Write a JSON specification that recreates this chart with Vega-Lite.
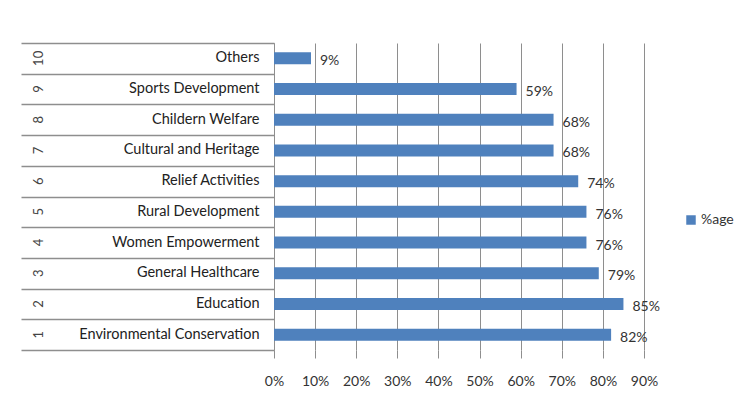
{
  "$schema": "https://vega.github.io/schema/vega-lite/v6.json",
  "width": 370,
  "height": 307,
  "padding": {"left": 20, "top": 42, "right": 5, "bottom": 5},
  "autosize": {"type": "pad"},
  "background": "white",
  "data": {"values": [
    {"n": 10, "item": "Others", "pct": 0.09},
    {"n": 9, "item": "Sports Development", "pct": 0.59},
    {"n": 8, "item": "Childern Welfare", "pct": 0.68},
    {"n": 7, "item": "Cultural and Heritage", "pct": 0.68},
    {"n": 6, "item": "Relief Activities", "pct": 0.74},
    {"n": 5, "item": "Rural Development", "pct": 0.76},
    {"n": 4, "item": "Women Empowerment", "pct": 0.76},
    {"n": 3, "item": "General Healthcare", "pct": 0.79},
    {"n": 2, "item": "Education", "pct": 0.85},
    {"n": 1, "item": "Environmental Conservation", "pct": 0.82}
  ]},
  "config": {"font": "Lato", "view": {"stroke": null}},
  "layer": [
    {
      "mark": {"type": "bar", "height": {"band": 0.39}},
      "encoding": {
        "x": {
          "field": "pct", "type": "quantitative",
          "scale": {"domain": [0, 0.9], "nice": false, "zero": true},
          "axis": {
            "format": ".0%", "values": [0, 0.1, 0.2, 0.3, 0.4, 0.5, 0.6, 0.7, 0.8, 0.9],
            "labelOverlap": false, "labelFlush": false,
            "grid": true, "gridColor": "#8e8e8e", "gridWidth": 1, "domain": false,
            "tickSize": 8, "tickColor": "#8e8e8e", "labelPadding": 16,
            "labelFontSize": 14, "labelColor": "#333", "title": null
          }
        },
        "y": {
          "field": "item", "type": "nominal",
          "sort": {"field": "n", "order": "descending"},
          "scale": {"paddingInner": 0, "paddingOuter": 0},
          "axis": {
            "orient": "left", "ticks": false, "domain": false, "labelPadding": 15,
            "labelFontSize": 14.5, "labelColor": "#222", "title": null, "labelLimit": 300
          }
        },
        "color": {
          "datum": "%age", "type": "nominal",
          "scale": {"range": ["#4F81BD"]},
          "legend": {
            "title": null, "orient": "none", "legendX": 410, "legendY": 170,
            "symbolType": "square", "symbolSize": 90, "labelFontSize": 14,
            "labelOffset": 3, "labelColor": "#333", "symbolStrokeWidth": 0
          }
        }
      }
    },
    {
      "mark": {"type": "text", "align": "left", "dx": 9, "dy": 3, "fontSize": 14, "color": "#333"},
      "encoding": {
        "x": {"field": "pct", "type": "quantitative"},
        "y": {
          "field": "item", "type": "nominal",
          "sort": {"field": "n", "order": "descending"},
          "scale": {"paddingInner": 0, "paddingOuter": 0},
          "axis": {
            "orient": "left", "labels": false, "ticks": true, "tickBand": "extent",
            "tickSize": 253, "tickColor": "#8e8e8e", "tickWidth": 1.5,
            "domain": true, "domainColor": "#8e8e8e", "domainWidth": 1, "title": null
          }
        },
        "text": {"field": "pct", "type": "quantitative", "format": ".0%"}
      }
    },
    {
      "mark": {"type": "bar", "opacity": 0},
      "encoding": {
        "x": {"field": "pct", "type": "quantitative"},
        "y": {
          "field": "n", "type": "ordinal",
          "sort": "descending",
          "scale": {"paddingInner": 0, "paddingOuter": 0},
          "axis": {
            "orient": "left", "offset": 225, "ticks": false, "domain": false,
            "labelAngle": -90, "labelAlign": "center", "labelBaseline": "bottom",
            "labelPadding": 4, "labelFontSize": 13, "labelColor": "#444", "title": null
          }
        }
      }
    }
  ],
  "resolve": {"scale": {"y": "independent"}, "axis": {"y": "independent"}}
}
